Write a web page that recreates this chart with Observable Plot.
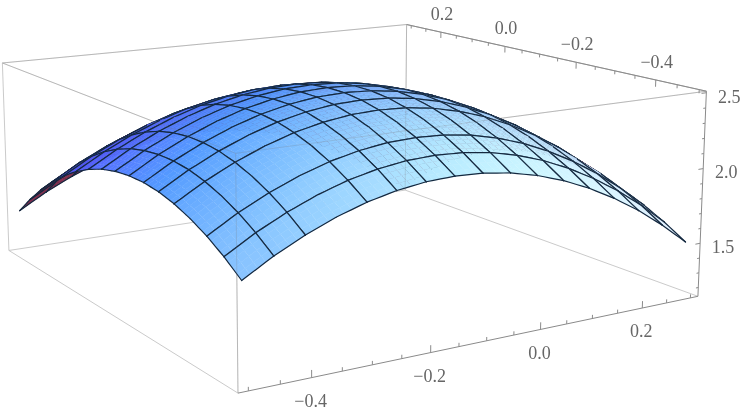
<!DOCTYPE html>
<html><head><meta charset="utf-8">
<script src="https://cdn.jsdelivr.net/npm/d3@7"></script>
<script src="https://cdn.jsdelivr.net/npm/@observablehq/plot@0.6"></script>
<style>html,body{margin:0;padding:0;background:#fff}svg{display:block;filter:blur(.45px)}</style>
</head><body><div id="c"></div>
<script>
const gridX=[-0.5,-0.45,-0.4,-0.35,-0.3,-0.25,-0.2,-0.15,-0.1,-0.05,0,0.05,0.1,0.15,0.2,0.25,0.3];
const gridY=[-0.5,-0.45,-0.4,-0.35,-0.3,-0.25,-0.2,-0.15,-0.1,-0.05,0,0.05,0.1,0.15,0.2,0.25,0.3];
const meshX=[-0.5,-0.45,-0.4,-0.3,-0.25,-0.2,-0.15,-0.1,-0.05,0,0.05,0.1,0.15,0.2,0.25,0.3];
const meshY=[-0.5,-0.45,-0.4,-0.3,-0.25,-0.2,-0.15,-0.1,-0.05,0,0.05,0.1,0.15,0.2,0.25,0.3];
const surfaceZ=[
[1.765,1.852,1.924,1.982,2.026,2.056,2.071,2.072,2.059,2.032,1.990,1.934,1.864,1.780,1.681,1.568,1.441],
[1.875,1.962,2.034,2.092,2.136,2.166,2.181,2.182,2.169,2.142,2.100,2.044,1.974,1.890,1.791,1.678,1.551],
[1.967,2.054,2.126,2.184,2.228,2.258,2.273,2.274,2.261,2.234,2.192,2.136,2.066,1.982,1.883,1.770,1.643],
[2.043,2.130,2.202,2.260,2.304,2.334,2.349,2.350,2.337,2.310,2.268,2.212,2.142,2.058,1.959,1.846,1.719],
[2.103,2.190,2.262,2.320,2.364,2.394,2.409,2.410,2.397,2.370,2.328,2.272,2.202,2.118,2.019,1.906,1.779],
[2.145,2.232,2.304,2.362,2.406,2.436,2.451,2.452,2.439,2.412,2.370,2.314,2.244,2.160,2.061,1.948,1.821],
[2.171,2.258,2.330,2.388,2.432,2.462,2.477,2.478,2.465,2.438,2.396,2.340,2.270,2.186,2.087,1.974,1.847],
[2.179,2.266,2.338,2.396,2.440,2.470,2.485,2.486,2.473,2.446,2.404,2.348,2.278,2.194,2.095,1.982,1.855],
[2.171,2.258,2.330,2.388,2.432,2.462,2.477,2.478,2.465,2.438,2.396,2.340,2.270,2.186,2.087,1.974,1.847],
[2.147,2.234,2.306,2.364,2.408,2.438,2.453,2.454,2.441,2.414,2.372,2.316,2.246,2.162,2.063,1.950,1.823],
[2.105,2.192,2.264,2.322,2.366,2.396,2.411,2.412,2.399,2.372,2.330,2.274,2.204,2.120,2.021,1.908,1.781],
[2.047,2.134,2.206,2.264,2.308,2.338,2.353,2.354,2.341,2.314,2.272,2.216,2.146,2.062,1.963,1.850,1.723],
[1.971,2.058,2.130,2.188,2.232,2.262,2.277,2.278,2.265,2.238,2.196,2.140,2.070,1.986,1.887,1.774,1.647],
[1.879,1.966,2.038,2.096,2.140,2.170,2.185,2.186,2.173,2.146,2.104,2.048,1.978,1.894,1.795,1.682,1.555],
[1.771,1.858,1.930,1.988,2.032,2.062,2.077,2.078,2.065,2.038,1.996,1.940,1.870,1.786,1.687,1.574,1.447],
[1.645,1.732,1.804,1.862,1.906,1.936,1.951,1.952,1.939,1.912,1.870,1.814,1.744,1.660,1.561,1.448,1.321],
[1.503,1.590,1.662,1.720,1.764,1.794,1.809,1.810,1.797,1.770,1.728,1.672,1.602,1.518,1.419,1.306,1.179]];
const xTicks=[-0.5,-0.45,-0.4,-0.35,-0.3,-0.25,-0.2,-0.15,-0.1,-0.05,0,0.05,0.1,0.15,0.2,0.25,0.3];
const yTicks=[-0.5,-0.45,-0.4,-0.35,-0.3,-0.25,-0.2,-0.15,-0.1,-0.05,0,0.05,0.1,0.15,0.2,0.25,0.3];
const zTicks=[1.2,1.3,1.4,1.5,1.6,1.7,1.8,1.9,2.0,2.1,2.2,2.3,2.4,2.5];
const xLabels=[-0.4,-0.2,0,0.2], yLabels=[-0.4,-0.2,0,0.2], zLabels=[1.5,2,2.5];
const xMin=-0.516,xMax=0.316,zMin=1.14,zMax=2.51;
const cal=[[xMin,xMin,zMin,238,393],[xMax,xMin,zMin,697,296],[xMax,xMax,zMin,405,190],[xMin,xMax,zMin,8,249],
[xMin,xMin,zMax,235,153],[xMax,xMin,zMax,706,90],[xMax,xMax,zMax,406,24],[xMin,xMax,zMax,2,63]];
function solve(A,b){const n=b.length;const M=A.map((r,i)=>[...r,b[i]]);for(let i=0;i<n;i++){let p=i;for(let k=i+1;k<n;k++)if(Math.abs(M[k][i])>Math.abs(M[p][i]))p=k;[M[i],M[p]]=[M[p],M[i]];for(let k=i+1;k<n;k++){const f=M[k][i]/M[i][i];for(let j=i;j<=n;j++)M[k][j]-=f*M[i][j];}}const x=Array(n);for(let i=n-1;i>=0;i--){let s=M[i][n];for(let j=i+1;j<n;j++)s-=M[i][j]*x[j];x[i]=s/M[i][i];}return x;}
const rows=[],rhs=[];
for(const [X,Y,Z,u,v] of cal){rows.push([X,Y,Z,1,0,0,0,0,-u*X,-u*Y,-u*Z]);rhs.push(u);rows.push([0,0,0,0,X,Y,Z,1,-v*X,-v*Y,-v*Z]);rhs.push(v);}
const AtA=d3.range(11).map(i=>d3.range(11).map(j=>d3.sum(rows,r=>r[i]*r[j])));
const Atb=d3.range(11).map(i=>d3.sum(rows,(r,k)=>r[i]*rhs[k]));
const h=solve(AtA,Atb);
function proj(X,Y,Z){const w=h[8]*X+h[9]*Y+h[10]*Z+1;return [(h[0]*X+h[1]*Y+h[2]*Z+h[3])/w,(h[4]*X+h[5]*Y+h[6]*Z+h[7])/w];}
const R=[[.866,-.50,-.02],[.18,.147,.966],[-.48,-.84,.217]];
const lights=[[3,1,1.5,0,.74],[2,2,2,1,.72],[0,2,2,2,.8]];
const amb=[.33,.27,.48];
function shade(n,px,py){const v=R.map(r=>r[0]*n[0]+r[1]*n[1]+r[2]*n[2]);const len=Math.hypot(...v);const p=[px/747,1-py/412,0];const c=amb.slice();
 for(const [a,b,d,k,g] of lights){const l=[a-p[0],b-p[1],d-p[2]];const L=Math.hypot(...l);const dot=Math.max(0,(v[0]*l[0]+v[1]*l[1]+v[2]*l[2])/(L*len));c[k]+=g*dot;}
 const w=Math.max(0,v[0]/len);
 c[1]+=.15*w;c[2]+=.5*w;
 return c;}
const N=gridX.length-1;
function nodeNormal(i,j){const a=Math.max(i-1,0),b=Math.min(i+1,N),c=Math.max(j-1,0),d=Math.min(j+1,N);
 const dzx=(surfaceZ[b][j]-surfaceZ[a][j])/(gridX[b]-gridX[a])*(0.4/1.37)*.832;
 const dzy=(surfaceZ[i][d]-surfaceZ[i][c])/(gridY[d]-gridY[c])*(0.4/1.37)*.832;
 return [-dzx,-dzy,1];}
const SUB=4,polys=[];let id=0;
const cells=[];for(let i=0;i<N;i++)for(let j=0;j<N;j++)cells.push([i,j]);
const toward=(i,j)=>-.48*gridX[i]-.84*gridY[j];
cells.sort((a,b)=>toward(a[0],a[1])-toward(b[0],b[1]));
function bil(q,s,t){return q[0]*(1-s)*(1-t)+q[1]*s*(1-t)+q[2]*s*t+q[3]*(1-s)*t;}
const toHex=c=>d3.rgb(...c.map(v=>Math.min(255,255*v))).formatHex();
for(const [i,j] of cells){
 const zq=[surfaceZ[i][j],surfaceZ[i+1][j],surfaceZ[i+1][j+1],surfaceZ[i][j+1]];
 const xq=[gridX[i],gridX[i+1],gridX[i+1],gridX[i]],yq=[gridY[j],gridY[j],gridY[j+1],gridY[j+1]];
 const nq=[nodeNormal(i,j),nodeNormal(i+1,j),nodeNormal(i+1,j+1),nodeNormal(i,j+1)];
 const P=(s,t)=>proj(bil(xq,s,t),bil(yq,s,t),bil(zq,s,t));
 for(let a=0;a<SUB;a++)for(let b=0;b<SUB;b++){
  const s0=a/SUB,s1=(a+1)/SUB,t0=b/SUB,t1=(b+1)/SUB;
  const pts=[P(s0,t0),P(s1,t0),P(s1,t1),P(s0,t1)];
  const area=d3.polygonArea(pts);
  const sm=(s0+s1)/2,tm=(t0+t1)/2;
  const n=[0,1,2].map(k=>bil(nq.map(q=>q[k]),sm,tm));
  const ctr=P(sm,tm);
  const col=area<0?"#7a2848":toHex(shade(n,ctr[0],ctr[1]));
  id++;for(const p of pts)polys.push({px:p[0],py:p[1],id,f:col,s:col,sw:.5});
 }
 const onMesh=(list,v)=>list.some(u=>Math.abs(u-v)<1e-6);
 const edges=[[[0,0],[1,0],onMesh(meshY,gridY[j])],[[1,0],[1,1],onMesh(meshX,gridX[i+1])],[[1,1],[0,1],onMesh(meshY,gridY[j+1])],[[0,1],[0,0],onMesh(meshX,gridX[i])]];
 for(const [[s0,t0],[s1,t1],on] of edges){if(!on)continue;id++;for(let k=0;k<=SUB;k++){const p=P(s0+(s1-s0)*k/SUB,t0+(t1-t0)*k/SUB);polys.push({px:p[0],py:p[1],id,f:"none",s:"#14283f",sw:1.2});}}
}
const E=(a,b)=>{const p=proj(...a),q=proj(...b);return {x1:p[0],y1:p[1],x2:q[0],y2:q[1]};};
const c=(X,Y,Z)=>[X,Y,Z];
const back=[E(c(xMin,xMin,zMax),c(xMax,xMin,zMax)),E(c(xMin,xMin,zMax),c(xMin,xMax,zMax)),E(c(xMin,xMin,zMax),c(xMin,xMin,zMin)),
 E(c(xMin,xMax,zMax),c(xMax,xMax,zMax)),E(c(xMax,xMax,zMax),c(xMax,xMin,zMax)),E(c(xMax,xMax,zMax),c(xMax,xMax,zMin)),E(c(xMin,xMax,zMax),c(xMin,xMax,zMin)),
 E(c(xMin,xMax,zMin),c(xMin,xMin,zMin)),E(c(xMin,xMax,zMin),c(xMax,xMax,zMin)),E(c(xMax,xMax,zMin),c(xMax,xMin,zMin))];
const dark=[E(c(xMin,xMin,zMin),c(xMax,xMin,zMin)),E(c(xMax,xMax,zMax),c(xMax,xMin,zMax)),E(c(xMax,xMin,zMax),c(xMax,xMin,zMin))];
const tk=[];
for(const t of xTicks){const maj=xLabels.some(v=>Math.abs(v-t)<1e-6);tk.push(E(c(t,xMin,zMin),c(t,xMin,zMin+(maj?.046:.024))));}
for(const t of yTicks){const maj=yLabels.some(v=>Math.abs(v-t)<1e-6);tk.push(E(c(xMax,t,zMax),c(xMax,t,zMax-(maj?.046:.024))));}
for(const t of zTicks){const maj=zLabels.some(v=>Math.abs(v-t)<1e-6);tk.push(E(c(xMax,xMin,t),c(xMax-(maj?.01:.005),xMin,t)));}
const fmt=v=>v.toFixed(1).replace("-","\u2212");
const lab=[];
for(const v of xLabels){const p=proj(v,xMin,zMin);lab.push({x:p[0]-1,y:p[1]+23.5,t:fmt(v)});}
for(const v of yLabels){const p=proj(xMax,v,zMax);lab.push({x:p[0]+1,y:p[1]-18,t:fmt(v)});}
for(const v of zLabels){const p=proj(xMax,xMin,v);lab.push({x:p[0]+23,y:p[1]+4,t:fmt(v)});}
const plot=Plot.plot({width:747,height:412,margin:0,x:{domain:[0,747],range:[0,747],axis:null},y:{domain:[0,412],range:[0,412],axis:null},color:{type:"identity"},
marks:[
 Plot.link(back,{x1:"x1",y1:"y1",x2:"x2",y2:"y2",stroke:"#c4c4c4",strokeWidth:1,strokeOpacity:.9}),
 Plot.line(polys,{x:"px",y:"py",z:"id",fill:"f",stroke:"s",strokeWidth:"sw"}),
 Plot.link(back.slice(0,6),{x1:"x1",y1:"y1",x2:"x2",y2:"y2",stroke:"#777",strokeWidth:.8,strokeOpacity:.28}),
 Plot.link(dark,{x1:"x1",y1:"y1",x2:"x2",y2:"y2",stroke:"#8a8a8a",strokeWidth:1}),
 Plot.link(tk,{x1:"x1",y1:"y1",x2:"x2",y2:"y2",stroke:"#8a8a8a",strokeWidth:1}),
 Plot.text(lab,{x:"x",y:"y",text:"t",fontFamily:"Liberation Serif",fontSize:18,fill:"#666"})
]});
document.getElementById("c").append(plot);
</script></body></html>
